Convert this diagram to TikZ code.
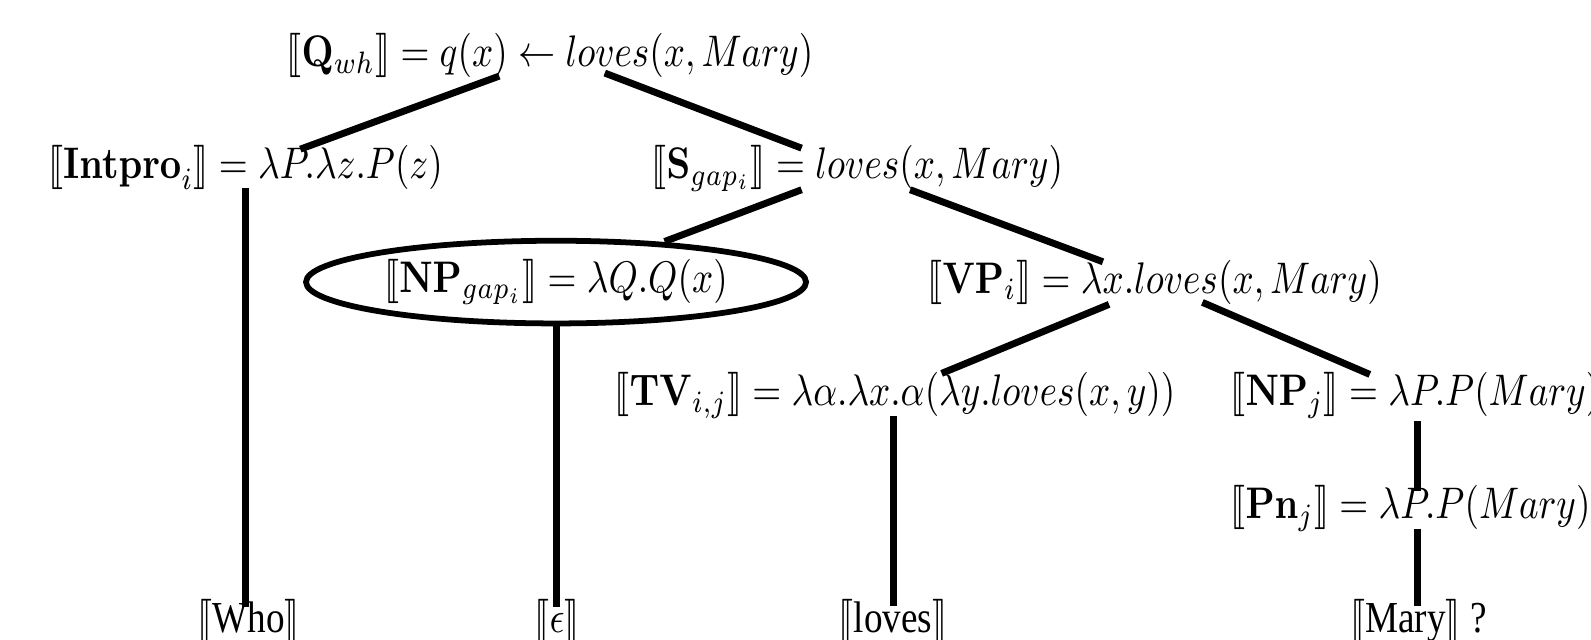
\documentclass[tikz,border=0pt]{standalone}
\usepackage[no-math]{fontspec}
\setmainfont{Liberation Serif}
\usepackage{amsmath}
\usepackage{stmaryrd}
\usetikzlibrary{calc,shapes.geometric}
\newcommand\tallbox[1]{\scalebox{0.966}[1.15]{#1}}
\begin{document}
\begin{tikzpicture}[x=0.2638pt,y=-0.2638pt,
  lbl/.style={inner sep=0pt,font=\fontsize{10}{12}\selectfont},
  edge/.style={line width=1.8pt}]
\clip (0,0) rectangle (1568,630);
\useasboundingbox (0,0) rectangle (1568,630);
\node[lbl] (root) at (542,55) {\tallbox{$\llbracket\mathbf{Q}_{wh}\rrbracket = q(x) \leftarrow loves(x, Mary)$}};
\node[lbl] (intpro) at (242,165) {\tallbox{$\llbracket\mathbf{Intpro}_{i}\rrbracket = \lambda P.\lambda z.P(z)$}};
\node[lbl] (sgap) at (845,166) {\tallbox{$\llbracket\mathbf{S}_{gap_i}\rrbracket = loves(x, Mary)$}};
\node[lbl,ellipse,draw,line width=1.5pt,minimum width=130pt,minimum height=21.5pt] (npgap) at (548,278) {\tallbox{$\llbracket\mathbf{NP}_{gap_i}\rrbracket = \lambda Q.Q(x)$}};
\node[lbl] (vp) at (1138,278) {\tallbox{$\llbracket\mathbf{VP}_{i}\rrbracket = \lambda x.loves(x, Mary)$}};
\node[lbl] (tv) at (882,390) {\tallbox{$\llbracket\mathbf{TV}_{i,j}\rrbracket = \lambda\alpha.\lambda x.\alpha(\lambda y.loves(x, y))$}};
\node[lbl,anchor=west] (npj) at (1212,390) {\tallbox{$\llbracket\mathbf{NP}_{j}\rrbracket = \lambda P.P(Mary)$}};
\node[lbl,anchor=west] (pnj) at (1212,501) {\tallbox{$\llbracket\mathbf{Pn}_{j}\rrbracket = \lambda P.P(Mary)$}};
\node[lbl] (who) at (245,612) {\tallbox{$\llbracket$Who$\rrbracket$}};
\node[lbl] (eps) at (549,612) {\tallbox{$\llbracket\epsilon\rrbracket$}};
\node[lbl] (loves) at (880,612) {\tallbox{$\llbracket$loves$\rrbracket$}};
\node[lbl,anchor=west] (mary) at (1330,612) {\tallbox{$\llbracket$Mary$\rrbracket$ ?}};
\coordinate (npjc) at (1397,391);
\coordinate (pnjc) at (1397,502);
\draw[edge] ($(root)+(-50,20)$) -- ($(intpro)+(54,-18)$);
\draw[edge] ($(root)+(54,17)$) -- ($(sgap)+(-55,-20)$);
\draw[edge] ($(sgap)+(-55,21)$) -- ($(npgap)+(107,-40)$);
\draw[edge] ($(sgap)+(52,21)$) -- ($(vp)+(-51,-20)$);
\draw[edge] ($(intpro)+(0,20)$) -- ($(who)+(-3,-14)$);
\draw[edge] ($(npgap)+(0,42)$) -- ($(eps)+(-1,-14)$);
\draw[edge] ($(vp)+(-45,22)$) -- ($(tv)+(46,-22)$);
\draw[edge] ($(vp)+(47,20)$) -- ($(npjc)+(-47,-22)$);
\draw[edge] ($(tv)+(-1,20)$) -- ($(loves)+(1,-15)$);
\draw[edge] ($(npjc)+(0,24)$) -- ($(pnjc)+(0,-18)$);
\draw[edge] ($(pnjc)+(0,19)$) -- ($(mary.west)+(67,-15)$);
\end{tikzpicture}
\end{document}
